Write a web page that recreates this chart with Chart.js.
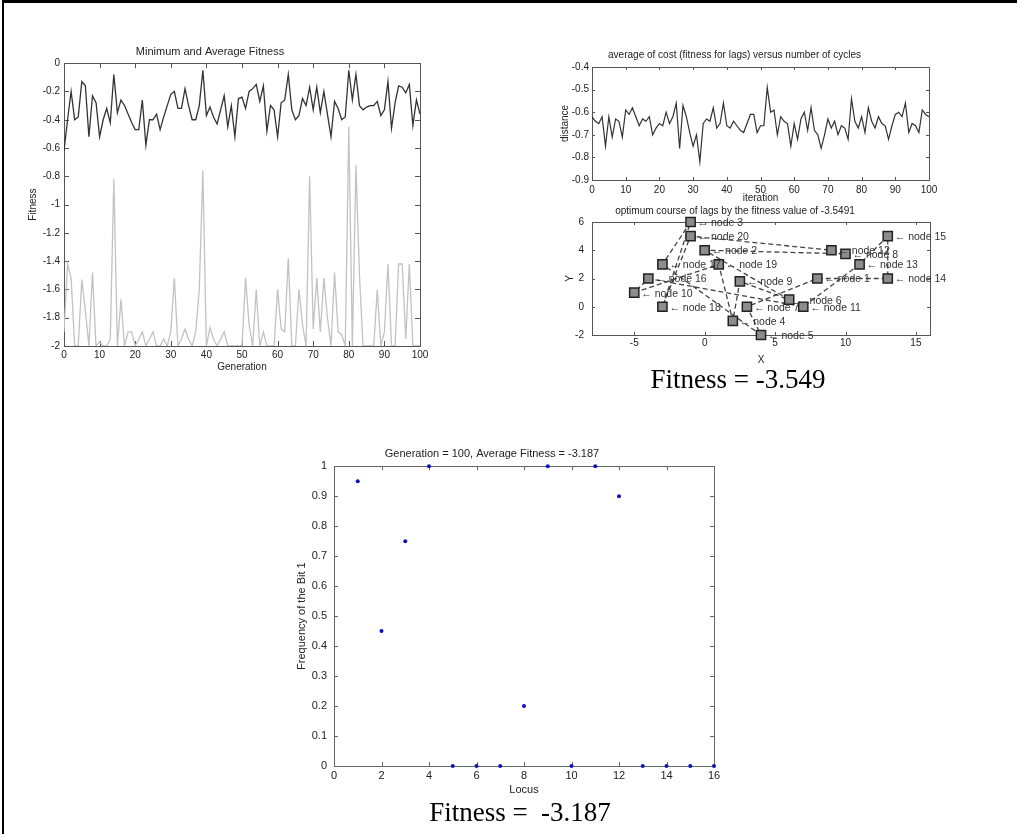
<!DOCTYPE html>
<html>
<head>
<meta charset="utf-8">
<script src="https://cdn.jsdelivr.net/npm/chart.js@4.4.1/dist/chart.umd.min.js"></script>
<style>
body { margin: 0; background: #fff; width: 1017px; height: 834px; overflow: hidden; position: relative; }
.frame { position: absolute; left: 2px; top: 0; width: 1100px; height: 900px; border-top: 3px solid #000; border-left: 2px solid #000; }
canvas { position: absolute; }
.caption { position: absolute; font-family: "Liberation Serif", "Times New Roman", serif; font-size: 27px; line-height: 1; color: #000; white-space: pre; text-align: center; }
</style>
</head>
<body>
<div class="frame"></div>
<canvas id="fitnessChart" width="440" height="346" style="left:0;top:30px"></canvas>
<canvas id="costChart" width="420" height="174" style="left:540px;top:30px"></canvas>
<canvas id="routeChart" width="420" height="176" style="left:540px;top:190px"></canvas>
<canvas id="bitChart" width="470" height="376" style="left:270px;top:425px"></canvas>
<div class="caption" style="left:638px;top:366px;width:200px">Fitness = -3.549</div>
<div class="caption" style="left:420px;top:799px;width:200px">Fitness =  -3.187</div>

<script>
// ---- Minimum and Average Fitness (generation 0..100) ----
const generation = Array.from({ length: 101 }, (_, i) => i);
const avgFitness = [
    -0.62, -0.40, -0.20, -0.40, -0.38, -0.13, -0.16, -0.52, -0.23, -0.28,
    -0.52, -0.40, -0.32, -0.42, -0.08, -0.35, -0.26, -0.30, -0.36, -0.42,
    -0.47, -0.47, -0.26, -0.58, -0.40, -0.40, -0.36, -0.47, -0.38, -0.30,
    -0.22, -0.20, -0.32, -0.32, -0.18, -0.30, -0.40, -0.40, -0.30, -0.05,
    -0.37, -0.31, -0.38, -0.43, -0.33, -0.23, -0.45, -0.30, -0.52, -0.25,
    -0.24, -0.32, -0.20, -0.18, -0.15, -0.27, -0.16, -0.48, -0.30, -0.33,
    -0.52, -0.28, -0.26, -0.08, -0.33, -0.40, -0.37, -0.25, -0.30, -0.17,
    -0.33, -0.17, -0.35, -0.20, -0.36, -0.52, -0.27, -0.32, -0.40, -0.38,
    -0.05, -0.26, -0.08, -0.30, -0.33, -0.31, -0.30, -0.30, -0.27, -0.37,
    -0.33, -0.13, -0.46, -0.28, -0.16, -0.17, -0.21, -0.15, -0.44, -0.26,
    -0.36
];
const minFitness = [
    -1.90, -1.42, -1.52, -2.00, -2.00, -1.53, -1.75, -2.00, -1.48, -2.00,
    -1.97, -2.00, -2.00, -1.95, -0.82, -2.00, -1.67, -2.00, -1.90, -1.90,
    -2.00, -1.95, -1.90, -2.00, -1.95, -1.90, -2.00, -2.00, -1.95, -2.00,
    -1.90, -1.52, -2.00, -1.95, -1.88, -1.95, -2.00, -1.90, -1.60, -0.76,
    -2.00, -1.87, -1.95, -2.00, -1.95, -1.90, -2.00, -2.00, -2.00, -2.00,
    -2.00, -1.52, -1.85, -2.00, -1.60, -2.00, -1.90, -2.00, -2.00, -2.00,
    -1.60, -1.88, -1.90, -1.38, -2.00, -2.00, -1.60, -1.85, -2.00, -0.80,
    -1.88, -1.52, -1.90, -1.52, -1.80, -2.00, -1.48, -1.90, -1.92, -2.00,
    -0.45, -2.00, -0.72, -1.50, -2.00, -2.00, -2.00, -2.00, -1.60, -2.00,
    -1.90, -1.42, -2.00, -2.00, -1.42, -1.42, -1.95, -1.42, -2.00, -2.00,
    -2.00
];
const fitnessTicksX = [0, 10, 20, 30, 40, 50, 60, 70, 80, 90, 100];
const fitnessTicksY = [0, -0.2, -0.4, -0.6, -0.8, -1, -1.2, -1.4, -1.6, -1.8, -2];

// ---- average cost versus cycles (iteration 0..100) ----
const avgCost = [
    -0.62, -0.64, -0.65, -0.62, -0.75, -0.62, -0.71, -0.63, -0.64, -0.71,
    -0.59, -0.61, -0.58, -0.62, -0.66, -0.63, -0.64, -0.62, -0.70, -0.67,
    -0.65, -0.66, -0.60, -0.65, -0.62, -0.56, -0.76, -0.57, -0.62, -0.69,
    -0.75, -0.70, -0.82, -0.65, -0.63, -0.64, -0.58, -0.67, -0.65, -0.56,
    -0.66, -0.67, -0.64, -0.66, -0.68, -0.69, -0.65, -0.61, -0.61, -0.69,
    -0.66, -0.66, -0.49, -0.60, -0.59, -0.70, -0.62, -0.64, -0.65, -0.75,
    -0.65, -0.72, -0.63, -0.60, -0.68, -0.58, -0.68, -0.70, -0.76, -0.70,
    -0.63, -0.67, -0.64, -0.70, -0.66, -0.67, -0.72, -0.54, -0.64, -0.67,
    -0.62, -0.69, -0.58, -0.64, -0.67, -0.62, -0.65, -0.66, -0.72, -0.66,
    -0.61, -0.60, -0.62, -0.56, -0.69, -0.65, -0.66, -0.69, -0.59, -0.61,
    -0.62
];
const costTicksY = [-0.4, -0.5, -0.6, -0.7, -0.8, -0.9];

// ---- optimum course of lags (nodes 1..20) ----
const nodeNames = ['node 1', 'node 2', 'node 3', 'node 4', 'node 5', 'node 6', 'node 7', 'node 8', 'node 9', 'node 10',
    'node 11', 'node 12', 'node 13', 'node 14', 'node 15', 'node 16', 'node 17', 'node 18', 'node 19', 'node 20'];
const nodeX = [8, 0, -1, 2, 4, 6, 3, 10, 2.5, -5, 7, 9, 11, 13, 13, -4, -3, -3, 1, -1];
const nodeY = [2, 4, 6, -1, -2, 0.5, 0, 3.75, 1.8, 1, 0, 4, 3, 2, 5, 2, 3, 0, 3, 5];
const tour = [3, 17, 5, 7, 1, 14, 15, 13, 11, 16, 10, 19, 4, 9, 6, 2, 8, 12, 20, 18, 3];
const routeTicksX = [-5, 0, 5, 10, 15];
const routeTicksY = [-2, 0, 2, 4, 6];

// ---- frequency of the bit 1 per locus ----
const locus = [1, 2, 3, 4, 5, 6, 7, 8, 9, 10, 11, 12, 13, 14, 15, 16];
const bitFreq = [0.95, 0.45, 0.75, 1, 0, 0, 0, 0.2, 1, 0, 1, 0.9, 0, 0, 0, 0];
const locusTicksX = [0, 2, 4, 6, 8, 10, 12, 14, 16];
const freqTicksY = [0, 0.1, 0.2, 0.3, 0.4, 0.5, 0.6, 0.7, 0.8, 0.9, 1];

const FONT = 'Liberation Sans, Arial, sans-serif';
const TEXT = '#222';

// MATLAB style box with inward ticks on all four sides
const matlabBox = {
    id: 'matlabBox',
    beforeDatasetsDraw(chart, args, opts) {
        const { ctx, chartArea: a, scales: { x, y } } = chart;
        const len = opts.len || 4;
        ctx.save();
        ctx.strokeStyle = opts.color || '#555';
        ctx.lineWidth = 1;
        ctx.beginPath();
        x.ticks.forEach(t => {
            const px = Math.round(x.getPixelForValue(t.value)) + 0.5;
            ctx.moveTo(px, a.bottom); ctx.lineTo(px, a.bottom - len);
            ctx.moveTo(px, a.top); ctx.lineTo(px, a.top + len);
        });
        y.ticks.forEach(t => {
            const py = Math.round(y.getPixelForValue(t.value)) + 0.5;
            ctx.moveTo(a.left, py); ctx.lineTo(a.left + len, py);
            ctx.moveTo(a.right, py); ctx.lineTo(a.right - len, py);
        });
        ctx.stroke();
        ctx.lineWidth = opts.width || 1;
        ctx.strokeRect(Math.round(a.left) + 0.5, Math.round(a.top) + 0.5, Math.round(a.width), Math.round(a.height));
        ctx.restore();
    }
};

// "<- node N" labels next to each node
const nodeLabels = {
    id: 'nodeLabels',
    afterDatasetsDraw(chart) {
        const { ctx, scales: { x, y } } = chart;
        ctx.save();
        ctx.font = '10.5px ' + FONT;
        ctx.fillStyle = '#333';
        ctx.textBaseline = 'middle';
        nodeNames.forEach((name, i) => {
            const px = x.getPixelForValue(nodeX[i]);
            const py = y.getPixelForValue(nodeY[i]);
            ctx.fillText('\u2190 ' + name, px + 7, py + 1);
        });
        ctx.restore();
    }
};

function axis(values, min, max, cfg) {
    return {
        type: 'linear', min, max,
        grid: { display: false, drawTicks: false },
        border: { display: false },
        afterBuildTicks: s => { s.ticks = values.map(v => ({ value: v })); },
        afterFit: s => { if (cfg.width) s.width = cfg.width; if (cfg.height) s.height = cfg.height; },
        ticks: {
            font: { family: FONT, size: cfg.size || 10 }, color: TEXT,
            padding: cfg.pad, autoSkip: false, maxRotation: 0,
            callback: v => String(Math.round(v * 100) / 100)
        },
        title: {
            display: true, text: cfg.title, color: TEXT,
            font: { family: FONT, size: cfg.size || 10 },
            padding: cfg.titlePad
        }
    };
}

function baseOptions(title, titleSize, titlePad, padRight, box) {
    return {
        responsive: false,
        animation: false,
        events: [],
        layout: { padding: { left: 0, top: 0, right: padRight, bottom: 0 } },
        plugins: {
            legend: { display: false },
            tooltip: { enabled: false },
            title: { display: true, text: title, color: TEXT, font: { family: FONT, size: titleSize, weight: 'normal' }, padding: titlePad },
            matlabBox: box
        }
    };
}

const pts = (xs, ys) => ys.map((v, i) => ({ x: xs[i], y: v }));

// Chart 1: minimum and average fitness
const opt1 = baseOptions('Minimum and Average Fitness', 11, { top: 15, bottom: 5 }, 20, { color: '#555', len: 5 });
opt1.scales = {
    x: axis(fitnessTicksX, 0, 100, { height: 30, pad: 3, title: 'Generation', titlePad: { top: 0, bottom: 3 } }),
    y: axis(fitnessTicksY, -2, 0, { width: 64, pad: 4, title: 'Fitness', titlePad: { top: 27, bottom: 0 } })
};
new Chart(document.getElementById('fitnessChart'), {
    type: 'line',
    data: {
        datasets: [
            { data: pts(generation, minFitness), borderColor: '#c2c2c2', borderWidth: 1.3, pointRadius: 0, tension: 0 },
            { data: pts(generation, avgFitness), borderColor: '#333', borderWidth: 1.3, pointRadius: 0, tension: 0 }
        ]
    },
    options: opt1,
    plugins: [matlabBox]
});

// Chart 2: average cost versus number of cycles
const opt2 = baseOptions('average of cost (fitness for lags) versus number of cycles', 10, { top: 19, bottom: 6 }, 31, { color: '#555', len: 3 });
opt2.scales = {
    x: axis(fitnessTicksX, 0, 100, { height: 24, pad: 4, title: 'iteration', titlePad: { top: 0, bottom: 0 } }),
    y: axis(costTicksY, -0.9, -0.4, { width: 52, pad: 3, title: 'distance', titlePad: { top: 19, bottom: 0 } })
};
new Chart(document.getElementById('costChart'), {
    type: 'line',
    data: {
        datasets: [
            { data: pts(generation, avgCost), borderColor: '#333', borderWidth: 1.2, pointRadius: 0, tension: 0 }
        ]
    },
    options: opt2,
    plugins: [matlabBox]
});

// Chart 3: optimum course of lags
const opt3 = baseOptions('optimum course of lags by the fitness value of -3.5491', 10, { top: 15, bottom: 5 }, 30, { color: '#555', len: 3 });
opt3.scales = {
    x: axis(routeTicksX, -8, 16, { height: 31, pad: 2, title: 'X', titlePad: { top: 0, bottom: 0 } }),
    y: axis(routeTicksY, -2, 6, { width: 52, pad: 8, title: 'Y', titlePad: { top: 24, bottom: 0 } })
};
new Chart(document.getElementById('routeChart'), {
    type: 'scatter',
    data: {
        datasets: [
            {
                data: tour.map(n => ({ x: nodeX[n - 1], y: nodeY[n - 1] })),
                showLine: true, borderColor: '#444', borderWidth: 1.3, borderDash: [5, 3],
                pointRadius: 0, order: 2, clip: false
            },
            {
                data: pts(nodeX, nodeY), pointStyle: 'rect', pointRadius: 6.5,
                backgroundColor: '#8c8c8c', borderColor: '#222', borderWidth: 1.5, order: 1, clip: false
            }
        ]
    },
    options: opt3,
    plugins: [matlabBox, nodeLabels]
});

// Chart 4: frequency of the bit 1
const opt4 = baseOptions('Generation = 100, Average Fitness = -3.187', 11, { top: 22, bottom: 6 }, 26, { color: '#666', len: 4 });
opt4.scales = {
    x: axis(locusTicksX, 0, 16, { height: 35, pad: 3, size: 11, title: 'Locus', titlePad: { top: 0, bottom: 4 } }),
    y: axis(freqTicksY, 0, 1, { width: 64, pad: 7, size: 11, title: 'Frequency of the Bit 1', titlePad: { top: 25, bottom: 0 } })
};
new Chart(document.getElementById('bitChart'), {
    type: 'scatter',
    data: {
        datasets: [
            { data: pts(locus, bitFreq), pointStyle: 'circle', pointRadius: 2, backgroundColor: '#1010c0', borderColor: '#1010c0', borderWidth: 0, clip: false }
        ]
    },
    options: opt4,
    plugins: [matlabBox]
});
</script>
</body>
</html>
